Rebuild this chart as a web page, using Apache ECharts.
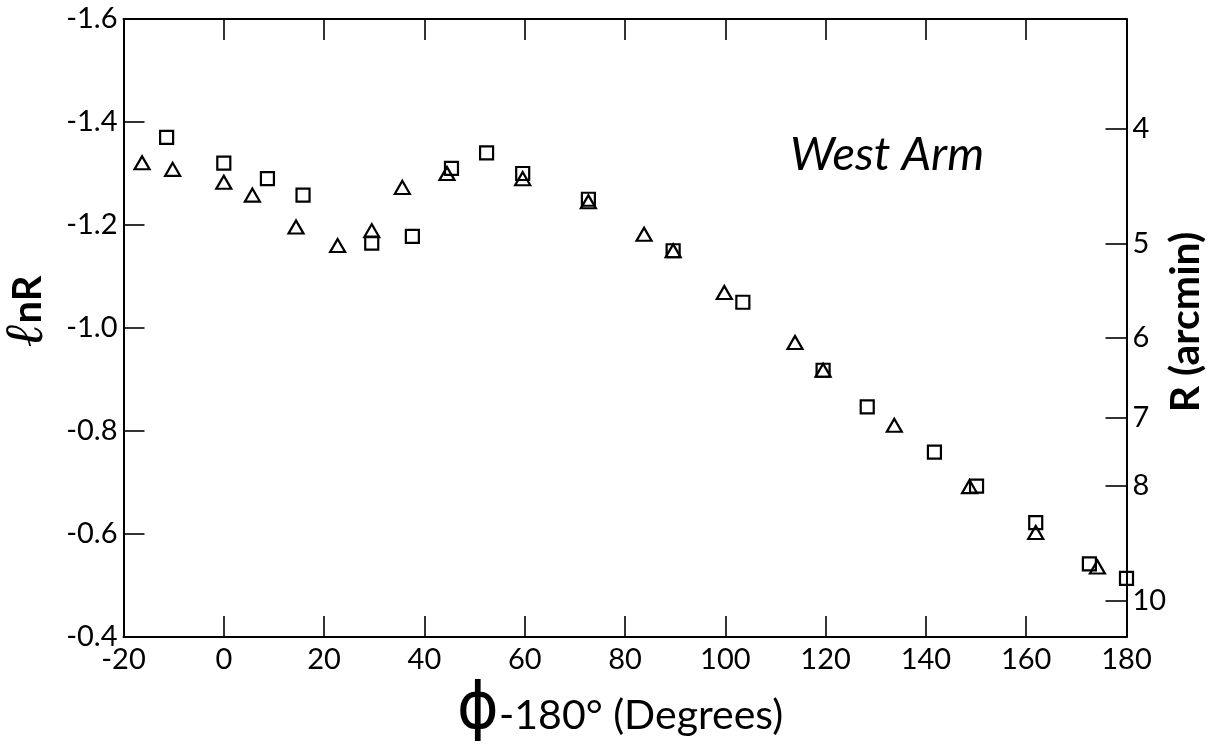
<!DOCTYPE html>
<html>
<head>
<meta charset="utf-8">
<script src="https://cdn.jsdelivr.net/npm/echarts@6/dist/echarts.min.js"></script>
<style>
  html, body { margin: 0; padding: 0; background: #ffffff; }
  #chart { width: 1213px; height: 745px; }
</style>
</head>
<body>
<div id="chart"></div>
<script>
// phi - 180 (degrees) and ln R for the square markers
const squareX = [-11.4, 0, 8.7, 15.8, 29.5, 37.6, 45.4, 52.4, 59.6, 72.7, 89.6, 103.5, 119.5, 128.3, 141.7, 150.1, 161.9, 172.6, 180];
const squareY = [-1.370, -1.320, -1.290, -1.258, -1.165, -1.178, -1.310, -1.340, -1.300, -1.250, -1.150, -1.050, -0.918, -0.847, -0.759, -0.693, -0.622, -0.542, -0.514];
// phi - 180 (degrees) and ln R for the triangle markers
const triangleX = [-16.3, -10.2, 0, 5.7, 14.4, 22.7, 29.5, 35.6, 44.5, 59.6, 72.7, 83.8, 89.6, 99.8, 113.9, 119.5, 133.7, 148.7, 161.9, 174.2];
const triangleY = [-1.321, -1.308, -1.283, -1.258, -1.196, -1.160, -1.189, -1.273, -1.300, -1.290, -1.245, -1.182, -1.150, -1.069, -0.972, -0.918, -0.811, -0.692, -0.603, -0.536];
// right axis tick labels, R in arcmin (ln R axis is ln(R / 16))
const rightTicksR = [4, 5, 6, 7, 8, 10];
const rScale = 16;

const squares = squareX.map((x, i) => [x, squareY[i]]);
const triangles = triangleX.map((x, i) => [x, triangleY[i]]);
const rightTickValues = rightTicksR.map(r => Math.log(r / rScale));

const FONT = 'Lato';
const axisLineStyle = { color: '#000', width: 2 };
const tickStyle = { color: '#000', width: 1.6 };

const chart = echarts.init(document.getElementById('chart'));
chart.setOption({
  backgroundColor: '#ffffff',
  animation: false,
  grid: { left: 123.5, right: 86.5, top: 19, bottom: 108, containLabel: false, outerBoundsMode: 'none' },
  xAxis: [
    {
      type: 'value', position: 'bottom', min: -20, max: 180, interval: 20,
      axisLine: { show: true, onZero: false, lineStyle: axisLineStyle },
      axisTick: { show: true, inside: true, length: 21, lineStyle: tickStyle },
      axisLabel: { show: true, color: '#000', fontSize: 29, fontFamily: FONT, margin: 8 },
      splitLine: { show: false },
      name: '{phi|ϕ}{t|-180° (Degrees)}',
      nameLocation: 'middle', nameGap: 35,
      nameTextStyle: {
        color: '#000', fontFamily: FONT, padding: [0, 10, 0, 0],
        rich: {
          phi: { fontSize: 64, fontFamily: 'DejaVu Sans', color: '#000', fontWeight: 'normal' },
          t: { fontSize: 41, fontFamily: FONT, color: '#000', fontWeight: 'normal', padding: [10, 0, 0, 0] }
        }
      }
    },
    {
      type: 'value', position: 'top', min: -20, max: 180, interval: 20,
      axisLine: { show: true, onZero: false, lineStyle: axisLineStyle },
      axisTick: { show: true, inside: true, length: 21, lineStyle: tickStyle },
      axisLabel: { show: false },
      splitLine: { show: false }
    }
  ],
  yAxis: [
    {
      type: 'value', position: 'left', min: -1.6, max: -0.4, interval: 0.2, inverse: true,
      axisLine: { show: true, onZero: false, lineStyle: axisLineStyle },
      axisTick: { show: true, inside: true, length: 21, lineStyle: tickStyle },
      axisLabel: {
        show: true, color: '#000', fontSize: 29, fontFamily: FONT, margin: 6,
        formatter: v => v.toFixed(1)
      },
      splitLine: { show: false },
      name: '{l|ℓ}{t|nR}',
      nameLocation: 'middle', nameRotate: 90, nameGap: 64,
      nameTextStyle: {
        color: '#000', padding: [0, 0, 0, 34],
        rich: {
          l: { fontSize: 54, fontFamily: 'DejaVu Serif', fontStyle: 'italic', fontWeight: 'bold', color: '#000' },
          t: { fontSize: 40, fontFamily: FONT, fontWeight: 'bold', color: '#000' }
        }
      }
    },
    {
      type: 'value', position: 'right', min: -1.6, max: -0.4, inverse: true,
      axisLine: { show: true, onZero: false, lineStyle: axisLineStyle },
      axisTick: { show: true, inside: true, length: 21, lineStyle: tickStyle, customValues: rightTickValues },
      axisLabel: {
        show: true, color: '#000', fontSize: 29, fontFamily: FONT, margin: 6,
        customValues: rightTickValues,
        formatter: v => String(Math.round(rScale * Math.exp(v)))
      },
      splitLine: { show: false }
    }
  ],
  graphic: [
    {
      type: 'text', left: 790, top: 131,
      style: { text: 'West Arm', fill: '#000', font: 'italic 47px Lato' }
    },
    {
      type: 'text', x: 1186, y: 322, rotation: Math.PI / 2,
      style: {
        text: 'R (arcmin)', fill: '#000', font: 'bold 41px Lato',
        align: 'center', verticalAlign: 'middle'
      }
    }
  ],
  series: [
    {
      name: 'squares', type: 'scatter', xAxisIndex: 0, yAxisIndex: 0, clip: false,
      symbol: 'rect', symbolSize: 13,
      itemStyle: { color: 'rgba(255,255,255,0)', borderColor: '#000', borderWidth: 2.2, opacity: 1 },
      data: squares
    },
    {
      name: 'triangles', type: 'scatter', xAxisIndex: 0, yAxisIndex: 0, clip: false,
      symbol: 'triangle', symbolSize: [15, 13],
      itemStyle: { color: 'rgba(255,255,255,0)', borderColor: '#000', borderWidth: 2.2, opacity: 1 },
      data: triangles
    }
  ]
});
</script>
</body>
</html>
